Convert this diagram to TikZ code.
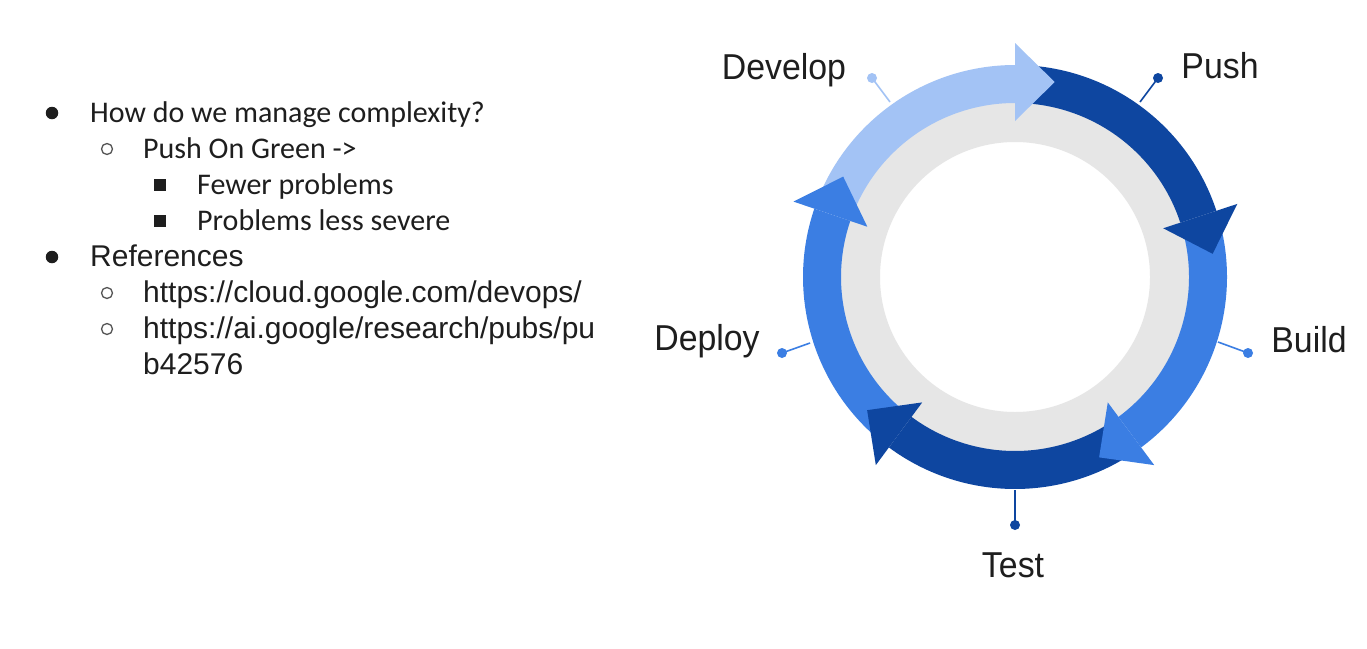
\documentclass[tikz,border=0pt]{standalone}
\usepackage{fontspec}
\setmainfont{Liberation Sans}
\newfontfamily\calfont{Carlito}
\newfontfamily\arialfont{Liberation Sans}
\newfontfamily\labfont[FakeStretch=0.94]{Liberation Sans}
\definecolor{cLight}{HTML}{A3C3F5}
\definecolor{cMed}{HTML}{3B7EE3}
\definecolor{cDark}{HTML}{0E46A0}
\definecolor{cGray}{HTML}{E6E6E6}
\definecolor{cText}{HTML}{1E1E1E}
\definecolor{cBul}{HTML}{555555}
\newcommand\ringband[3]{% color, start, base
  \fill[#1] (#2:212) arc[start angle=#2, end angle=#3, radius=212]
    -- (#3:174) arc[start angle=#3, end angle=#2, radius=174] -- cycle;}
\newcommand\ringhead[2]{% color, base
  \pgfmathsetmacro\tipang{#2-11.5}
  \fill[#1] (#2:234) -- (\tipang:199) -- (#2:156) -- cycle;}
\tikzset{
  calitem/.style={anchor=base west, inner sep=0pt, text=cText, font=\calfont\fontsize{30}{36}\selectfont},
  arialitem/.style={anchor=base west, inner sep=0pt, text=cText, font=\arialfont\fontsize{30}{36}\selectfont},
  steplabel/.style={anchor=base, inner sep=0pt, text=cText, font=\labfont\fontsize{36}{40}\selectfont},
  pindot/.style={circle, inner sep=0pt, minimum size=10pt, fill=#1},
  pinline/.style={draw=#1, line width=1.6pt},
  dotbullet/.style={circle, inner sep=0pt, minimum size=12.5pt, fill=cText},
  ringbullet/.style={circle, inner sep=0pt, minimum size=11pt, draw=cBul, line width=1.3pt},
  squarebullet/.style={rectangle, inner sep=0pt, minimum size=11.5pt, fill=cText},
}
\begin{document}
\begin{tikzpicture}[x=1pt,y=1pt]
\useasboundingbox (0,0) rectangle (1367,-648);
\fill[white] (0,0) rectangle (1367,-648);

% ---- left bullet list ----
\node[dotbullet] (b1) at (52,-113) {};
\node[calitem] (t1) at (90,-122) {How do we manage complexity?};
\node[ringbullet] (b2) at (107,-149) {};
\node[calitem] (t2) at (143,-158) {Push On Green ->};
\node[squarebullet] (b3) at (160,-185) {};
\node[calitem] (t3) at (197,-194) {Fewer problems};
\node[squarebullet] (b4) at (160,-221) {};
\node[calitem] (t4) at (197,-230) {Problems less severe};
\node[dotbullet] (b5) at (52,-257) {};
\node[arialitem] (t5) at (90,-266) {References};
\node[ringbullet] (b6) at (107,-293) {};
\node[arialitem] (t6) at (143,-302) {https://cloud.google.com/devops/};
\node[ringbullet] (b7) at (107,-329) {};
\node[arialitem] (t7) at (143,-338) {https://ai.google/research/pubs/pu};
\node[arialitem] (t8) at (143,-374) {b42576};

% ---- cycle ----
\begin{scope}[shift={(1015,-277)}]
  \fill[cGray, even odd rule] (0,0) circle[radius=178] (0,0) circle[radius=135];
  % bands
  \ringband{cLight}{158.2}{90}
  \ringband{cDark}{87}{18.2}
  \ringband{cMed}{15.2}{-53.5}
  \ringband{cDark}{-56.5}{-126.5}
  \ringband{cMed}{-129.5}{-198.8}
  % heads
  \ringhead{cLight}{90}
  \ringhead{cDark}{18.2}
  \ringhead{cMed}{-53.5}
  \ringhead{cDark}{-126.5}
  \ringhead{cMed}{-198.8}
  % pin anchors on ring
  \coordinate (rDevelop) at (-125,175);
  \coordinate (rPush) at (125,175);
  \coordinate (rBuild) at (203,-65);
  \coordinate (rTest) at (0,-213);
  \coordinate (rDeploy) at (-205,-66);
\end{scope}

\node[pindot=cLight] (pDevelop) at (872,-78) {};
\node[pindot=cDark] (pPush) at (1158,-78) {};
\node[pindot=cMed] (pBuild) at (1248,-353) {};
\node[pindot=cDark] (pTest) at (1015,-525) {};
\node[pindot=cMed] (pDeploy) at (782,-353) {};
\draw[pinline=cLight] (pDevelop.center) -- (rDevelop);
\draw[pinline=cDark] (pPush.center) -- (rPush);
\draw[pinline=cMed] (pBuild.center) -- (rBuild);
\draw[pinline=cDark] (pTest.center) -- (rTest);
\draw[pinline=cMed] (pDeploy.center) -- (rDeploy);

\node[steplabel] (lDevelop) at (784,-79) {Develop};
\node[steplabel] (lPush) at (1220,-78) {Push};
\node[steplabel] (lBuild) at (1309,-352) {Build};
\node[steplabel] (lTest) at (1013,-577) {Test};
\node[steplabel] (lDeploy) at (707,-350) {Deploy};
\end{tikzpicture}
\end{document}
